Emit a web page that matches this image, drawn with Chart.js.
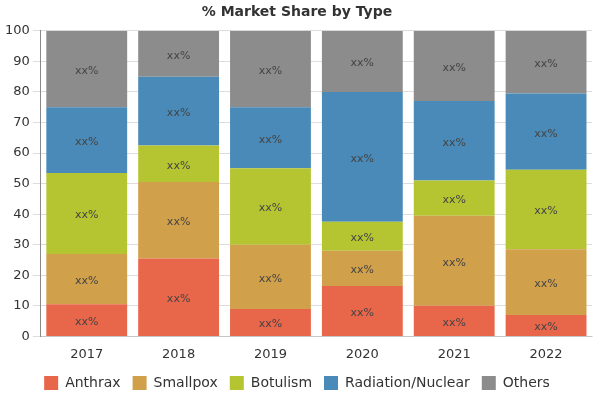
<!DOCTYPE html>
<html>
<head>
<script src="https://cdn.jsdelivr.net/npm/chart.js@4"></script>
<style>body{margin:0;background:#fff}</style>
</head>
<body>
<canvas id="chart" width="600" height="400"></canvas>
<script>
const years = ["2017", "2018", "2019", "2020", "2021", "2022"];
const anthrax = [10.5, 25.5, 9, 16.5, 10, 7];
const smallpox = [16.5, 25, 21, 11.5, 29.5, 21.5];
const botulism = [26.5, 12, 25, 9.5, 11.5, 26];
const radiation = [21.5, 22.5, 20, 42.5, 26, 25];
const others = [25, 15, 25, 20, 23, 20.5];

// write "xx%" in the middle of every segment
const segLabels = {
    id: "segLabels",
    afterDatasetsDraw(chart) {
        const ctx = chart.ctx;
        ctx.save();
        ctx.font = "11px 'DejaVu Sans'";
        ctx.fillStyle = "#444";
        ctx.textAlign = "center";
        ctx.textBaseline = "middle";
        chart.data.datasets.forEach((ds, i) => {
            chart.getDatasetMeta(i).data.forEach(bar => {
                const mid = (bar.y + bar.base) / 2 + 2;
                ctx.fillText("xx%", bar.x, mid);
            });
        });
        ctx.restore();
    }
};

function ds(label, data, color) {
    return { label: label, data: data, backgroundColor: color, categoryPercentage: 1, barPercentage: 0.88 };
}

new Chart(document.getElementById("chart"), {
    type: "bar",
    data: {
        labels: years,
        datasets: [
            ds("Anthrax", anthrax, "#e8664a"),
            ds("Smallpox", smallpox, "#d1a04b"),
            ds("Botulism", botulism, "#b5c532"),
            ds("Radiation/Nuclear", radiation, "#4a8ab8"),
            ds("Others", others, "#8c8c8c")
        ]
    },
    options: {
        responsive: false,
        animation: false,
        layout: { padding: { left: 2, right: 8, top: 0, bottom: 0 } },
        plugins: {
            title: { display: true, text: "% Market Share by Type", color: "#333", font: { family: "DejaVu Sans", size: 14, weight: "bold" }, padding: { top: 4, bottom: 10 } },
            legend: { position: "bottom", labels: { boxWidth: 14, boxHeight: 14, color: "#333", font: { family: "DejaVu Sans", size: 14 }, padding: 12 } },
            tooltip: { enabled: false }
        },
        scales: {
            x: { stacked: true, grid: { display: false }, ticks: { color: "#333", padding: 2, font: { family: "DejaVu Sans", size: 13 } } },
            y: { stacked: true, min: 0, max: 100, ticks: { stepSize: 10, color: "#333", font: { family: "DejaVu Sans", size: 13 } }, grid: { color: "#ddd" }, border: { display: true, color: "#888" } }
        }
    },
    plugins: [segLabels]
});
</script>
</body>
</html>
